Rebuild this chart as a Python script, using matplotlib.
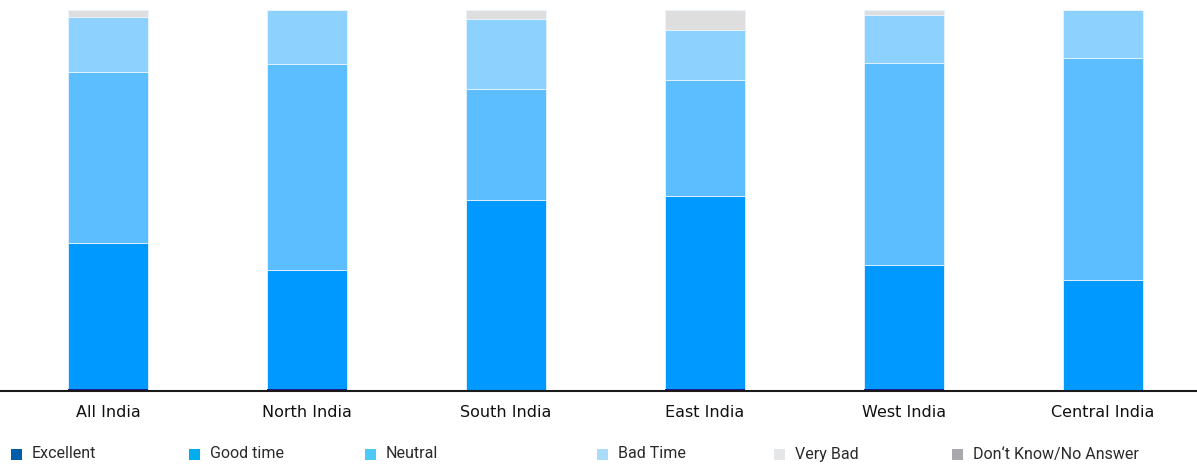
import matplotlib
matplotlib.use("Agg")
import matplotlib.pyplot as plt
from matplotlib.patches import Rectangle
import numpy as np

regions = ["All India", "North India", "South India", "East India", "West India", "Central India"]
series = ["Excellent", "Good time", "Neutral", "Bad Time", "Very Bad", "Don\u2018t Know/No Answer"]

excellent = [0.5, 0.5, 0.0, 0.5, 0.5, 0.0]
good_time = [38.3, 31.3, 50.1, 50.7, 32.6, 29.1]
neutral = [44.9, 54.0, 29.1, 30.4, 53.0, 58.3]
bad_time = [14.5, 14.2, 18.4, 13.2, 12.6, 12.6]
very_bad = [1.8, 0.0, 2.4, 5.2, 1.3, 0.0]
dont_know = [0.0, 0.0, 0.0, 0.0, 0.0, 0.0]

bar_colors = ["#1c1c94", "#0099ff", "#5cbdff", "#8dd1ff", "#dedede", "#a7a9ac"]
legend_colors = ["#005daa", "#00aeef", "#4cc9f5", "#a8dcf8", "#e5e6e7", "#a7a9ac"]

W, H = 1197, 466
fig = plt.figure(figsize=(W / 100, H / 100), dpi=100)
ax = fig.add_axes([0, 1 - 391 / H, 1, (391 - 10) / H])

x = np.arange(len(regions))
bottom = np.zeros(len(regions))
all_series = [excellent, good_time, neutral, bad_time, very_bad, dont_know]
for i, (vals, col) in enumerate(zip(all_series, bar_colors)):
    vals = np.array(vals)
    edge = "none" if i == 0 else "#e8f4ff"
    ax.bar(x, vals, width=0.397, bottom=bottom, color=col,
           edgecolor=edge, linewidth=0.6, zorder=2 if i == 0 else 1)
    bottom += vals

ax.set_ylim(0, 100)
ax.set_xlim(-108 / 199, (W - 108) / 199)
ax.set_xticks(x)
ax.set_xticklabels(regions, fontsize=11.5, family="DejaVu Sans", color="#111111")
ax.tick_params(axis="x", length=0, pad=10)
ax.set_yticks([])
for s in ["top", "right", "left"]:
    ax.spines[s].set_visible(False)
ax.spines["bottom"].set_color("#1a1a1a")
ax.spines["bottom"].set_linewidth(1.5)
ax.spines["bottom"].set_zorder(3)

# legend row along the bottom
legend_x = [11, 189, 365, 597, 774, 952]
for lx, name, col in zip(legend_x, series, legend_colors):
    fig.add_artist(Rectangle((lx / W, 1 - 460 / H), 11 / W, 11 / H,
                             transform=fig.transFigure, facecolor=col,
                             edgecolor="none"))
    fig.text((lx + 21) / W, 1 - 454 / H, name, fontsize=11.5,
             family=["Roboto", "DejaVu Sans"],
             color="#2a2a2a", va="center", ha="left")

fig.savefig("out.png", dpi=100)
